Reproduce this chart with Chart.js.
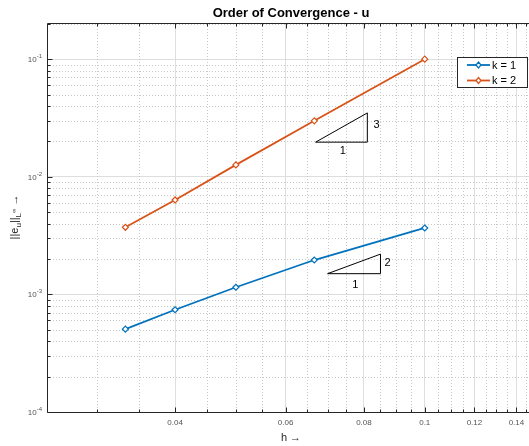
<!DOCTYPE html>
<html>
<head>
<meta charset="utf-8">
<script src="https://cdn.jsdelivr.net/npm/chart.js@4.4.1/dist/chart.umd.min.js"></script>
<style>
  html, body { margin: 0; padding: 0; background: #fff; }
  #wrap { width: 529px; height: 446px; }
</style>
</head>
<body>
<div id="wrap"><canvas id="myChart"></canvas></div>
<script>
// mesh sizes and max-norm errors for both polynomial degrees
var hValues = [1 / 30, 1 / 25, 1 / 20, 1 / 15, 1 / 10];
var errK1 = [0.000506, 0.00074, 0.00115, 0.00196, 0.00367];
var errK2 = [0.00372, 0.00635, 0.01262, 0.0299, 0.1];
var seriesLabels = ["k = 1", "k = 2"];
var seriesColors = ["#0072BD", "#D95319"];

// slope triangles, corners as [h, error]
var triangle3 = [[0.067, 0.0197], [0.081, 0.0197], [0.081, 0.0349], [0.067, 0.0197]];
var triangle2 = [[0.07, 0.0015], [0.085, 0.0015], [0.085, 0.0022], [0.07, 0.0015]];
var slopeTexts = ["3", "1", "2", "1"];
var slopeTextH = [0.0838, 0.074, 0.0872, 0.0775];
var slopeTextErr = [0.0277, 0.0166, 0.00185, 0.0012];

// axis ticks
var xTicks = [0.04, 0.06, 0.08, 0.1, 0.12, 0.14];
var yTicks = [1e-4, 1e-3, 1e-2, 1e-1];
var yTickExp = ["-4", "-3", "-2", "-1"];

var FONT = "'Liberation Sans', Arial, Helvetica, sans-serif";
var AXIS_COLOR = "#262626";

function toPoints(xs, ys) {
    return xs.map(function (x, i) { return { x: x, y: ys[i] }; });
}
function cornerPoints(tri) {
    return tri.map(function (p) { return { x: p[0], y: p[1] }; });
}

// minor tick values (every 0.005 in h, 2..9 per decade in error)
function minorX(scale) {
    var out = [];
    for (var i = 5; i <= 30; i++) {
        var v = i * 0.005;
        if (v > scale.min && v < scale.max && xTicks.indexOf(Math.round(v * 1000) / 1000) < 0) out.push(v);
    }
    return out;
}
function minorY(scale) {
    var out = [];
    for (var e = -4; e <= -1; e++) {
        for (var m = 2; m <= 9; m++) {
            var v = m * Math.pow(10, e);
            if (v > scale.min && v < scale.max) out.push(v);
        }
    }
    return out;
}

var matlabAxes = {
    id: "matlabAxes",
    beforeDatasetsDraw: function (chart) {
        var ctx = chart.ctx, a = chart.chartArea;
        var xs = chart.scales.x, ys = chart.scales.y;
        ctx.save();
        ctx.beginPath();
        ctx.rect(a.left, a.top, a.right - a.left, a.bottom - a.top);
        ctx.clip();
        ctx.strokeStyle = "#c9c9c9";
        ctx.lineWidth = 1;
        ctx.setLineDash([1, 2]);
        minorX(xs).forEach(function (v) {
            var px = Math.round(xs.getPixelForValue(v)) + 0.5;
            ctx.beginPath(); ctx.moveTo(px, a.top); ctx.lineTo(px, a.bottom); ctx.stroke();
        });
        minorY(ys).forEach(function (v) {
            var py = Math.round(ys.getPixelForValue(v)) + 0.5;
            ctx.beginPath(); ctx.moveTo(a.left, py); ctx.lineTo(a.right, py); ctx.stroke();
        });
        ctx.restore();
    },
    afterDatasetsDraw: function (chart) {
        var ctx = chart.ctx, a = chart.chartArea;
        var xs = chart.scales.x, ys = chart.scales.y;
        var L = Math.round(a.left) + 0.5, B = Math.round(a.bottom) + 0.5, T = Math.round(a.top) + 0.5;
        ctx.save();
        ctx.strokeStyle = AXIS_COLOR;
        ctx.lineWidth = 1;
        // box: left, bottom, top
        ctx.beginPath();
        ctx.moveTo(a.right, T); ctx.lineTo(L, T); ctx.lineTo(L, B); ctx.lineTo(a.right, B);
        ctx.stroke();
        // inward tick marks
        function xTick(v, len) {
            var px = Math.round(xs.getPixelForValue(v)) + 0.5;
            ctx.beginPath();
            ctx.moveTo(px, B); ctx.lineTo(px, B - len);
            ctx.moveTo(px, T); ctx.lineTo(px, T + len);
            ctx.stroke();
        }
        function yTick(v, len) {
            var py = Math.round(ys.getPixelForValue(v)) + 0.5;
            ctx.beginPath(); ctx.moveTo(L, py); ctx.lineTo(L + len, py); ctx.stroke();
        }
        xTicks.forEach(function (v) { xTick(v, 5); });
        minorX(xs).forEach(function (v) { xTick(v, 3); });
        yTicks.forEach(function (v) { yTick(v, 5); });
        minorY(ys).forEach(function (v) { yTick(v, 3); });

        // y tick labels as 10 with raised exponent
        ctx.fillStyle = "#555";
        ctx.textBaseline = "alphabetic";
        yTicks.forEach(function (v, i) {
            var py = ys.getPixelForValue(v);
            ctx.font = "6px " + FONT;
            var ew = ctx.measureText(yTickExp[i]).width;
            ctx.textAlign = "right";
            ctx.fillText(yTickExp[i], 42, py - 1);
            ctx.font = "8px " + FONT;
            ctx.fillText("10", 42 - ew, py + 3);
        });

        // slope triangle labels
        ctx.fillStyle = "#000";
        ctx.font = "11px " + FONT;
        ctx.textAlign = "center";
        ctx.textBaseline = "middle";
        slopeTexts.forEach(function (t, i) {
            ctx.fillText(t, xs.getPixelForValue(slopeTextH[i]), ys.getPixelForValue(slopeTextErr[i]));
        });
        ctx.restore();
    },
    afterDraw: function (chart) {
        var ctx = chart.ctx;
        ctx.save();
        // title
        ctx.fillStyle = "#000";
        ctx.font = "bold 13px " + FONT;
        ctx.textAlign = "center";
        ctx.textBaseline = "middle";
        ctx.fillText("Order of Convergence - u", 291, 13);

        // x axis label
        ctx.fillStyle = AXIS_COLOR;
        ctx.font = "11px " + FONT;
        ctx.fillText("h \u2192", 291, 438);

        // y axis label with sub/superscripts
        var parts = [
            { t: "||e", s: 11, dy: 0 },
            { t: "u", s: 8, dy: 3 },
            { t: "||", s: 11, dy: 0 },
            { t: "L", s: 8, dy: 3 },
            { t: "\u221e", s: 6, dy: -2 },
            { t: " \u2192", s: 11, dy: 0 }
        ];
        var total = 0;
        parts.forEach(function (p) { ctx.font = p.s + "px " + FONT; p.w = ctx.measureText(p.t).width; total += p.w; });
        ctx.translate(14, 217);
        ctx.rotate(-Math.PI / 2);
        ctx.textAlign = "left";
        ctx.textBaseline = "alphabetic";
        var cx = -total / 2;
        parts.forEach(function (p) {
            ctx.font = p.s + "px " + FONT;
            ctx.fillText(p.t, cx, 4 + p.dy);
            cx += p.w;
        });
        ctx.setTransform(1, 0, 0, 1, 0, 0);

        // legend box
        var bx = 457.5, by = 57.5, bw = 70, bh = 30;
        ctx.fillStyle = "#fff";
        ctx.fillRect(bx, by, bw, bh);
        ctx.strokeStyle = AXIS_COLOR;
        ctx.lineWidth = 1;
        ctx.strokeRect(bx, by, bw, bh);
        seriesLabels.forEach(function (lab, i) {
            var y = 65 + i * 15.5;
            ctx.strokeStyle = seriesColors[i];
            ctx.lineWidth = 1.8;
            ctx.beginPath(); ctx.moveTo(467, y); ctx.lineTo(490, y); ctx.stroke();
            ctx.fillStyle = "#fff";
            ctx.lineWidth = 1.2;
            ctx.beginPath();
            ctx.moveTo(478.5, y - 3); ctx.lineTo(481, y); ctx.lineTo(478.5, y + 3); ctx.lineTo(476, y); ctx.closePath();
            ctx.fill(); ctx.stroke();
            ctx.fillStyle = "#000";
            ctx.font = "11px " + FONT;
            ctx.textAlign = "left";
            ctx.textBaseline = "middle";
            ctx.fillText(lab, 492, y + 0.5);
        });
        ctx.restore();
    }
};

function seriesDataset(i, ys) {
    return {
        label: seriesLabels[i],
        data: toPoints(hValues, ys),
        borderColor: seriesColors[i],
        backgroundColor: seriesColors[i],
        borderWidth: 1.8,
        pointStyle: "rectRot",
        pointRadius: 3,
        pointBorderWidth: 1.2,
        pointBackgroundColor: "#fff",
        pointBorderColor: seriesColors[i],
        tension: 0
    };
}
function triangleDataset(tri) {
    return {
        label: "",
        data: cornerPoints(tri),
        borderColor: "#000",
        borderWidth: 1,
        pointRadius: 0,
        tension: 0
    };
}

var ctx = document.getElementById("myChart").getContext("2d");
var myChart = new Chart(ctx, {
    type: "line",
    data: {
        datasets: [
            seriesDataset(0, errK1),
            seriesDataset(1, errK2),
            triangleDataset(triangle3),
            triangleDataset(triangle2)
        ]
    },
    options: {
        responsive: true,
        maintainAspectRatio: false,
        animation: false,
        layout: { autoPadding: false, padding: { top: 23, left: 0, right: 0, bottom: 0 } },
        plugins: {
            legend: { display: false },
            title: { display: false },
            tooltip: { enabled: false }
        },
        scales: {
            x: {
                type: "logarithmic",
                min: 0.025,
                max: 0.1466,
                afterBuildTicks: function (axis) {
                    axis.ticks = xTicks.map(function (v) { return { value: v }; });
                },
                afterFit: function (axis) {
                    axis.height = 34;
                    axis.paddingLeft = 0;
                    axis.paddingRight = 0;
                },
                grid: { color: "#dedede", drawTicks: false },
                border: { display: false },
                ticks: {
                    autoSkip: false,
                    maxRotation: 0,
                    padding: 6,
                    color: "#555",
                    font: { family: FONT, size: 8 },
                    callback: function (v) { return String(v); }
                }
            },
            y: {
                type: "logarithmic",
                min: 1e-4,
                max: 0.203,
                afterBuildTicks: function (axis) {
                    axis.ticks = yTicks.map(function (v) { return { value: v }; });
                },
                afterFit: function (axis) {
                    axis.width = 47;
                    axis.paddingTop = 0;
                    axis.paddingBottom = 0;
                },
                grid: { color: "#dedede", drawTicks: false },
                border: { display: false },
                ticks: { display: false }
            }
        }
    },
    plugins: [matlabAxes]
});
</script>
</body>
</html>
